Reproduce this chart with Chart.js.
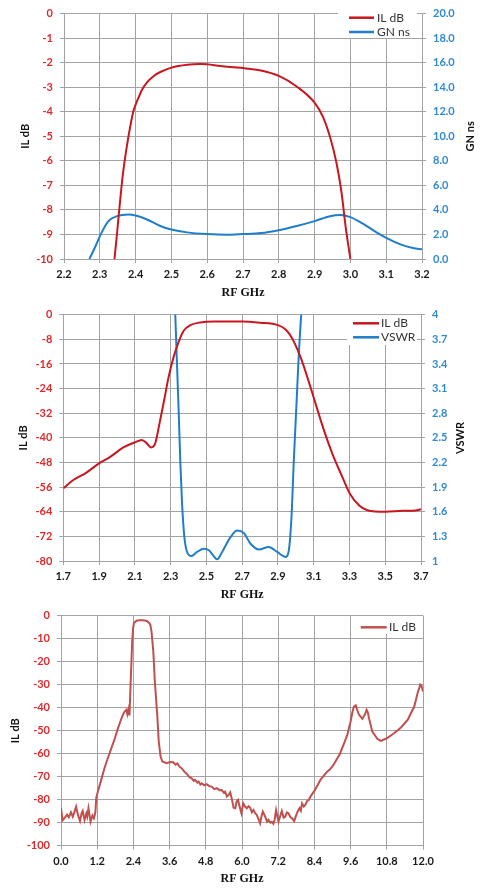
<!DOCTYPE html>
<html>
<head>
<meta charset="utf-8">
<title>IL dB / GN ns / VSWR</title>
<script src="https://cdn.jsdelivr.net/npm/chart.js@4.4.1/dist/chart.umd.min.js"></script>
<style>
  html, body { margin: 0; padding: 0; background: #fff; }
  #page { position: relative; width: 480px; height: 891px; overflow: hidden; }
  .box { position: absolute; left: 0; width: 480px; }
</style>
</head>
<body>
<div id="page">
  <div class="box" style="top:0;height:300px"><canvas id="chart1"></canvas></div>
  <div class="box" style="top:300px;height:302px"><canvas id="chart2"></canvas></div>
  <div class="box" style="top:602px;height:289px"><canvas id="chart3"></canvas></div>
</div>
<script>
// --- chart 1: passband IL + group delay ---
const il1Freq = [2.341, 2.348, 2.355, 2.364, 2.374, 2.385, 2.394, 2.406, 2.418, 2.432, 2.45, 2.469, 2.5, 2.544, 2.581, 2.6, 2.637, 2.675, 2.7, 2.75, 2.8, 2.85, 2.9, 2.924, 2.943, 2.961, 2.975, 2.987, 3.0];
const il1Db = [-10, -8.97, -7.9, -6.6, -5.55, -4.6, -3.97, -3.5, -3.1, -2.8, -2.55, -2.38, -2.2, -2.08, -2.05, -2.06, -2.14, -2.19, -2.22, -2.32, -2.54, -2.97, -3.63, -4.23, -5.02, -6.08, -7.27, -8.72, -10];
const gn1Freq = [2.271, 2.287, 2.303, 2.324, 2.348, 2.38, 2.4, 2.432, 2.469, 2.5, 2.544, 2.6, 2.656, 2.7, 2.75, 2.8, 2.85, 2.9, 2.943, 2.971, 3.0, 3.035, 3.073, 3.1, 3.14, 3.175, 3.2];
const gn1Ns = [0.0, 0.98, 2.03, 3.09, 3.49, 3.62, 3.54, 3.22, 2.69, 2.4, 2.17, 2.03, 1.98, 2.03, 2.11, 2.35, 2.69, 3.09, 3.49, 3.59, 3.41, 2.88, 2.17, 1.72, 1.19, 0.9, 0.79];

// --- chart 2: IL + VSWR ---
const il2Freq = [1.7, 1.756, 1.821, 1.9, 1.962, 2.036, 2.098, 2.139, 2.167, 2.19, 2.214, 2.238, 2.264, 2.289, 2.317, 2.345, 2.373, 2.41, 2.466, 2.541, 2.7, 2.8, 2.9, 2.943, 2.98, 3.026, 3.064, 3.11, 3.157, 3.204, 3.26, 3.3, 3.353, 3.4, 3.502, 3.596, 3.67, 3.7];
const il2Db = [-56.4, -53.7, -51.6, -48.3, -46.2, -43.1, -41.5, -40.7, -41.8, -43.1, -41.8, -35.3, -27.7, -20.2, -13.7, -8.8, -5.2, -3.4, -2.5, -2.2, -2.2, -2.6, -3.4, -4.8, -7.7, -13.7, -20.2, -28.8, -37.5, -45.1, -52.7, -57.9, -61.9, -63.5, -64.0, -63.7, -63.6, -63.2];
const vswrFreq = [2.318, 2.326, 2.335, 2.345, 2.354, 2.364, 2.377, 2.392, 2.416, 2.448, 2.486, 2.514, 2.541, 2.56, 2.588, 2.635, 2.672, 2.709, 2.747, 2.793, 2.849, 2.896, 2.943, 2.961, 2.976, 2.989, 3.004, 3.017, 3.03, 3.038];
const vswr = [4.3, 4.0, 3.44, 2.83, 2.22, 1.70, 1.29, 1.11, 1.06, 1.11, 1.15, 1.13, 1.06, 1.02, 1.11, 1.29, 1.37, 1.34, 1.21, 1.14, 1.17, 1.11, 1.05, 1.13, 1.54, 2.23, 2.92, 3.53, 4.0, 4.3];

// --- chart 3: wideband IL ---
const il3Freq = [0, 0.05, 0.13, 0.2, 0.26, 0.33, 0.39, 0.45, 0.5, 0.56, 0.63, 0.68, 0.72, 0.78, 0.84, 0.87, 0.91, 0.98, 1.04, 1.09, 1.14, 1.17, 1.22, 1.33, 1.44, 1.55, 1.67, 1.78, 1.89, 2.0, 2.06, 2.11, 2.17, 2.2, 2.24, 2.27, 2.31, 2.36, 2.39, 2.42, 2.5, 2.6, 2.72, 2.82, 2.87, 2.93, 2.96, 3.0, 3.06, 3.11, 3.19, 3.24, 3.3, 3.36, 3.5, 3.62, 3.72, 3.8, 3.86, 3.94, 4.0, 4.09, 4.17, 4.26, 4.33, 4.4, 4.44, 4.52, 4.56, 4.62, 4.67, 4.75, 4.83, 4.92, 5.0, 5.08, 5.17, 5.25, 5.33, 5.4, 5.44, 5.5, 5.56, 5.61, 5.67, 5.72, 5.78, 5.82, 5.87, 5.92, 5.98, 6.04, 6.1, 6.16, 6.22, 6.27, 6.33, 6.38, 6.44, 6.49, 6.55, 6.6, 6.65, 6.69, 6.77, 6.83, 6.88, 6.94, 6.99, 7.04, 7.08, 7.13, 7.21, 7.27, 7.32, 7.38, 7.43, 7.49, 7.54, 7.6, 7.66, 7.73, 7.8, 7.85, 7.91, 7.95, 7.99, 8.05, 8.1, 8.16, 8.21, 8.3, 8.4, 8.5, 8.6, 8.7, 8.82, 8.9, 8.99, 9.08, 9.16, 9.25, 9.32, 9.4, 9.49, 9.6, 9.66, 9.71, 9.77, 9.82, 9.88, 9.99, 10.07, 10.13, 10.17, 10.21, 10.32, 10.49, 10.6, 10.8, 11.04, 11.27, 11.49, 11.71, 11.82, 11.91, 11.95, 12.0];
const il3Db = [-83.5, -89.0, -87.8, -86.5, -87.6, -85.5, -87.4, -85.2, -83.0, -86.5, -89.3, -86.0, -84.9, -88.8, -86.0, -87.4, -83.7, -89.6, -86.9, -88.1, -85.5, -79.1, -76.5, -71.5, -66.3, -62.0, -57.6, -53.5, -48.9, -44.8, -42.8, -41.7, -40.9, -42.8, -40.6, -43.4, -28.6, -11.2, -5.4, -3.2, -2.2, -2.0, -2.0, -2.2, -2.5, -3.3, -3.9, -6.8, -15.5, -28.6, -43.0, -54.7, -61.2, -63.4, -64.1, -63.6, -63.7, -64.8, -64.2, -65.8, -66.3, -67.8, -68.8, -70.2, -70.7, -71.8, -71.4, -72.6, -72.1, -73.4, -72.9, -73.8, -73.3, -74.2, -74.3, -75.4, -75.0, -75.9, -75.8, -77.0, -76.5, -78.6, -77.9, -76.8, -80.1, -83.5, -83.7, -80.8, -80.1, -83.0, -85.9, -81.6, -83.0, -83.7, -82.8, -83.5, -85.5, -84.5, -86.0, -86.6, -88.5, -90.3, -87.0, -85.2, -87.4, -89.5, -88.8, -90.0, -89.6, -90.5, -88.8, -84.5, -89.6, -87.0, -84.9, -87.8, -87.4, -85.5, -85.9, -87.5, -88.1, -89.3, -86.6, -85.0, -83.7, -84.8, -81.6, -83.0, -82.3, -80.5, -80.1, -78.0, -76.2, -73.8, -71.4, -69.8, -67.8, -67.0, -65.6, -63.8, -62.0, -60.0, -57.6, -55.0, -51.8, -46.0, -42.0, -39.5, -39.0, -41.0, -43.1, -44.8, -43.1, -40.9, -42.0, -44.6, -50.4, -53.6, -54.4, -53.3, -51.1, -48.6, -45.3, -39.5, -33.7, -30.0, -30.5, -33.0];

const GRID = "#a3a3a3";
const RED = "#c8171f";
const BLUE = "#1f7dc9";
const RED3 = "#c0504d";
const TICK_RED = "#dd2a2a";
const TICK_BLUE = "#2f8ad3";
const TICK_FONT = { family: "Lato", size: 11, weight: "bold" };

function pts(xs, ys) {
    return xs.map((x, i) => ({ x: x, y: ys[i] }));
}

// legend with a white box inside the plot, like the spreadsheet one
const boxLegend = {
    id: "boxLegend",
    afterDatasetsDraw(chart, args, opts) {
        if (!opts.rows) return;
        const ctx = chart.ctx;
        ctx.save();
        ctx.fillStyle = "#fff";
        ctx.fillRect(opts.x, opts.y, opts.w, opts.h);
        ctx.font = "12px Lato";
        ctx.textBaseline = "middle";
        chart.data.datasets.forEach((ds, i) => {
            const y = opts.rows[i];
            ctx.strokeStyle = ds.borderColor;
            ctx.lineWidth = 2.5;
            ctx.beginPath();
            ctx.moveTo(opts.lineFrom, y);
            ctx.lineTo(opts.lineTo, y);
            ctx.stroke();
            ctx.fillStyle = "#333";
            ctx.fillText(ds.label, opts.textX, y);
        });
        ctx.restore();
    }
};

// right axis title reads bottom-to-top in the reference
const rightTitle = {
    id: "rightTitle",
    afterDraw(chart, args, opts) {
        if (!opts.text) return;
        const { ctx, chartArea } = chart;
        ctx.save();
        ctx.translate(opts.x, (chartArea.top + chartArea.bottom) / 2);
        ctx.rotate(-Math.PI / 2);
        ctx.font = "bold 11px Lato";
        ctx.textAlign = "center";
        ctx.textBaseline = "middle";
        ctx.fillStyle = "#111";
        ctx.fillText(opts.text, 0, 0);
        ctx.restore();
    }
};

function xAxis(min, max, step, height, titlePad) {
    return {
        type: "linear", min: min, max: max,
        ticks: { stepSize: step, color: "#1a1a1a", font: TICK_FONT, padding: 5, maxRotation: 0, autoSkip: false, callback: v => v.toFixed(1) },
        grid: { color: GRID, tickLength: 4 },
        border: { color: GRID },
        title: { display: true, text: "RF GHz", color: "#111", font: { family: "'Liberation Serif'", size: 12, weight: "bold" }, padding: { top: 0, bottom: titlePad } },
        afterFit: s => { s.height = height; }
    };
}

function leftAxis(min, max, step, width, titleOff) {
    return {
        position: "left", min: min, max: max,
        ticks: { stepSize: step, color: TICK_RED, font: TICK_FONT, padding: 7, callback: v => String(Math.round(v * 10) / 10) },
        grid: { color: GRID, tickLength: 4 },
        border: { color: GRID },
        title: { display: true, text: "IL dB", color: "#111", font: { family: "Lato", size: 11, weight: "bold" }, padding: { top: titleOff, bottom: 0 } },
        afterFit: s => { s.width = width; }
    };
}

function rightAxis(min, max, step, width, fmt) {
    return {
        position: "right", min: min, max: max,
        ticks: { stepSize: step, color: TICK_BLUE, font: TICK_FONT, padding: 7, callback: fmt },
        grid: { color: GRID, tickLength: 4, drawOnChartArea: false },
        border: { color: GRID },
        afterFit: s => { s.width = width; }
    };
}

function line(label, data, color, axis, smooth) {
    return {
        label: label, data: data, yAxisID: axis,
        borderColor: color, backgroundColor: color, borderWidth: 2,
        pointRadius: 0, tension: 0, cubicInterpolationMode: smooth ? "monotone" : "default",
        fill: false
    };
}

const common = {
    responsive: true, maintainAspectRatio: false, animation: false, events: [],
    parsing: false
};

new Chart(document.getElementById("chart1"), {
    type: "line",
    data: { datasets: [
        line("IL dB", pts(il1Freq, il1Db), RED, "y", true),
        line("GN ns", pts(gn1Freq, gn1Ns), BLUE, "y1", true)
    ] },
    options: Object.assign({}, common, {
        layout: { padding: { top: 7, left: 0, right: 0, bottom: 0 } },
        scales: {
            x: xAxis(2.2, 3.2, 0.1, 41, 0),
            y: leftAxis(-10, 0, 1, 64, 18.4),
            y1: rightAxis(0, 20, 2, 58, v => v.toFixed(1))
        },
        plugins: {
            legend: { display: false }, tooltip: { enabled: false },
            boxLegend: { x: 338, y: 7, w: 79, h: 31, lineFrom: 349, lineTo: 374, textX: 377, rows: [17.7, 32] },
            rightTitle: { text: "GN ns", x: 470 }
        }
    }),
    plugins: [boxLegend, rightTitle]
});

new Chart(document.getElementById("chart2"), {
    type: "line",
    data: { datasets: [
        line("IL dB", pts(il2Freq, il2Db), RED, "y", true),
        line("VSWR", pts(vswrFreq, vswr), BLUE, "y1", true)
    ] },
    options: Object.assign({}, common, {
        layout: { padding: { top: 14.7, left: 0, right: 0, bottom: 0 } },
        scales: {
            x: xAxis(1.7, 3.7, 0.2, 41, 0),
            y: leftAxis(-80, 0, 8, 63.3, 16.4),
            y1: rightAxis(1, 4, 0.3, 59, v => String(Math.round(v * 10) / 10))
        },
        plugins: {
            legend: { display: false }, tooltip: { enabled: false },
            boxLegend: { x: 347, y: 15, w: 70, h: 30, lineFrom: 353, lineTo: 379, textX: 381, rows: [23.3, 37.3] },
            rightTitle: { text: "VSWR", x: 460 }
        }
    }),
    plugins: [boxLegend, rightTitle]
});

new Chart(document.getElementById("chart3"), {
    type: "line",
    data: { datasets: [
        line("IL dB", pts(il3Freq, il3Db), RED3, "y", false)
    ] },
    options: Object.assign({}, common, {
        layout: { padding: { top: 13.7, left: 0, right: 57, bottom: 0 } },
        scales: {
            x: xAxis(0, 12, 1.2, 45.3, 4.8),
            y: leftAxis(-100, 0, 10, 61, 8.4)
        },
        plugins: {
            legend: { display: false }, tooltip: { enabled: false },
            boxLegend: { x: 352, y: 14, w: 67, h: 18, lineFrom: 360.7, lineTo: 386.7, textX: 389, rows: [25.3] }
        }
    }),
    plugins: [boxLegend]
});
</script>
</body>
</html>
